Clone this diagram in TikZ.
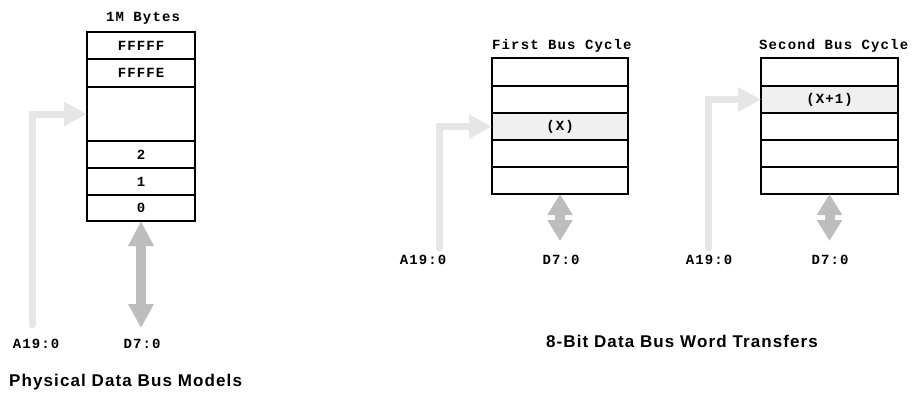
\documentclass[tikz,border=0pt]{standalone}
\usepackage{fontspec}
\usetikzlibrary{arrows.meta}
\newfontfamily\monof[LetterSpace=8]{Liberation Mono Bold}
\newfontfamily\titlef[LetterSpace=6.5]{Liberation Sans Bold}
\definecolor{addrgray}{HTML}{E6E6E6}
\definecolor{datagray}{HTML}{BDBDBD}
\definecolor{hlgray}{HTML}{F0F0F0}
\tikzset{
  mono/.style={font=\monof\fontsize{14}{16}\selectfont, inner sep=0pt},
  titletext/.style={font=\titlef\fontsize{17}{20}\selectfont, inner sep=0pt},
  cell/.style={draw=black, line width=1.5pt, inner sep=0pt, outer sep=0pt, font=\monof\fontsize{14}{16}\selectfont},
  addr/.style={draw=addrgray, line width=7pt, line cap=round, line join=miter, -{Triangle[width=23pt,length=23pt]}},
  datab/.style={draw=datagray, line width=10pt, {Triangle[width=24pt,length=25pt]}-{Triangle[width=24pt,length=24pt]}},
  datas/.style={draw=datagray, line width=10pt, {Triangle[width=24pt,length=21pt]}-{Triangle[width=24pt,length=21pt]}},
}
\begin{document}
\begin{tikzpicture}[x=1pt,y=-1pt]
\useasboundingbox (0,0) rectangle (918,392);
\fill[white] (0,0) rectangle (918,392);

% ---------- Left: physical model ----------
\node[mono] (t1) at (143,18) {1M Bytes};
\node[cell, minimum width=108pt, minimum height=27pt] (L1) at (141,45.5) {FFFFF};
\node[cell, minimum width=108pt, minimum height=28pt] (L2) at (141,73) {FFFFE};
\node[cell, minimum width=108pt, minimum height=54pt] (L3) at (141,114) {};
\node[cell, minimum width=108pt, minimum height=27pt] (L4) at (141,154.5) {2};
\node[cell, minimum width=108pt, minimum height=27pt] (L5) at (141,181.5) {1};
\node[cell, minimum width=108pt, minimum height=26pt] (L6) at (141,208) {0};
\coordinate (aL) at (32,325);
\coordinate (dL) at (141,328);
\draw[addr] (aL) |- (L3.west);
\draw[datab] (L6.south) -- (dL);
\node[mono] (lA1) at (36,344) {A19:0};
\node[mono] (lD1) at (142,344) {D7:0};
\node[titletext, anchor=west] (T1) at (9,382) {Physical Data Bus Models};

% ---------- Middle: first bus cycle ----------
\node[mono, anchor=west] (t2) at (492,46) {First Bus Cycle};
\node[cell, minimum width=136pt, minimum height=28pt] (M1) at (560,72) {};
\node[cell, minimum width=136pt, minimum height=27pt] (M2) at (560,99.5) {};
\node[cell, minimum width=136pt, minimum height=27pt, fill=hlgray] (M3) at (560,126.5) {(X)};
\node[cell, minimum width=136pt, minimum height=27pt] (M4) at (560,153.5) {};
\node[cell, minimum width=136pt, minimum height=27pt] (M5) at (560,180.5) {};
\coordinate (aM) at (439,248);
\coordinate (dM) at (560,241);
\draw[addr] (aM) |- (M3.west);
\draw[datas] (M5.south) -- (dM);
\node[mono] (lA2) at (423,260) {A19:0};
\node[mono] (lD2) at (561,260) {D7:0};

% ---------- Right: second bus cycle ----------
\node[mono, anchor=west] (t3) at (759,46) {Second Bus Cycle};
\node[cell, minimum width=137pt, minimum height=28pt] (R1) at (829.5,72) {};
\node[cell, minimum width=137pt, minimum height=27pt, fill=hlgray] (R2) at (829.5,99.5) {(X+1)};
\node[cell, minimum width=137pt, minimum height=27pt] (R3) at (829.5,126.5) {};
\node[cell, minimum width=137pt, minimum height=27pt] (R4) at (829.5,153.5) {};
\node[cell, minimum width=137pt, minimum height=27pt] (R5) at (829.5,180.5) {};
\coordinate (aR) at (708,248);
\coordinate (dR) at (829.5,241);
\draw[addr] (aR) |- (R2.west);
\draw[datas] (R5.south) -- (dR);
\node[mono] (lA3) at (709,260) {A19:0};
\node[mono] (lD3) at (830,260) {D7:0};

\node[titletext] (T2) at (682,341) {8-Bit Data Bus Word Transfers};
\end{tikzpicture}
\end{document}
